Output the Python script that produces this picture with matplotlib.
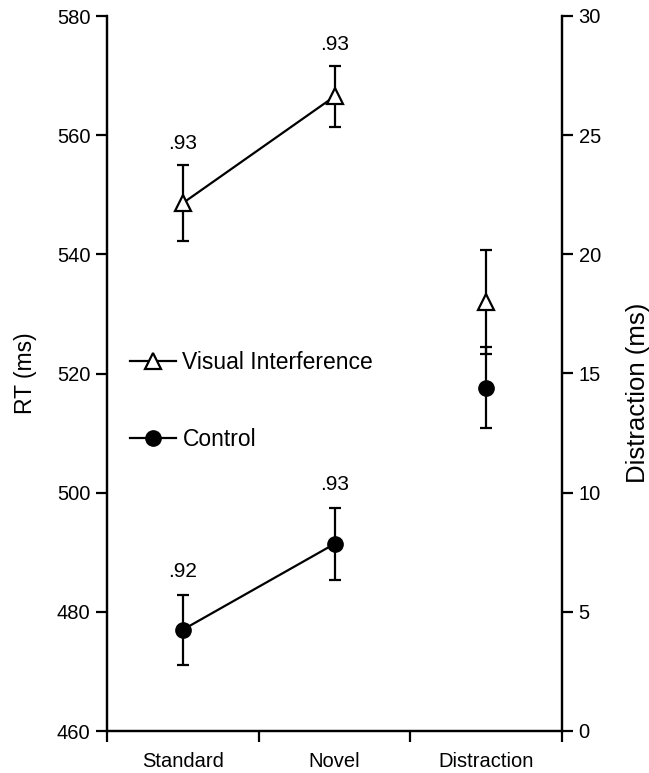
import matplotlib
matplotlib.use("Agg")
import matplotlib.pyplot as plt
from matplotlib.lines import Line2D

plt.rcParams['font.family'] = ['Liberation Sans', 'DejaVu Sans']

categories = ["Standard", "Novel", "Distraction"]
vi_rt = [548.6, 566.5]
vi_rt_err = [6.4, 5.1]
ctrl_rt = [477.0, 491.4]
ctrl_rt_err = [5.9, 6.1]
vi_acc = [".93", ".93"]
ctrl_acc = [".92", ".93"]
vi_dist = 18.0
vi_dist_err = 2.2
ctrl_dist = 14.4
ctrl_dist_err = 1.7
left_ticks = [460, 480, 500, 520, 540, 560, 580]
right_ticks = [0, 5, 10, 15, 20, 25, 30]

fig = plt.figure(figsize=(6.49, 7.73), dpi=100)
ax = fig.add_axes([107/649, 42/773, 455/649, 715/773])
ax2 = ax.twinx()

lw = 1.6
ms = 11
cs = 4.5
fs_tick = 14.5
fs_cat = 14.5
fs_acc = 15
fs_leg = 16.5
fs_lab = 16.5
fs_lab2 = 18.5

x = [1, 2]
ax.errorbar(x, vi_rt, yerr=vi_rt_err, color='black', lw=lw, marker='^', ms=ms,
            mfc='white', mec='black', mew=lw, capsize=cs, capthick=lw, elinewidth=lw, zorder=3)
ax.errorbar(x, ctrl_rt, yerr=ctrl_rt_err, color='black', lw=lw, marker='o', ms=ms,
            mfc='black', mec='black', capsize=cs, capthick=lw, elinewidth=lw, zorder=3)
for xi, v, e, t in zip(x, vi_rt, vi_rt_err, vi_acc):
    ax.text(xi, v + e + 2.0, t, ha='center', va='bottom', fontsize=fs_acc)
for xi, v, e, t in zip(x, ctrl_rt, ctrl_rt_err, ctrl_acc):
    ax.text(xi, v + e + 2.2, t, ha='center', va='bottom', fontsize=fs_acc)

ax2.errorbar([3], [vi_dist], yerr=[vi_dist_err], color='black', lw=lw, marker='^', ms=ms,
             mfc='white', mec='black', mew=lw, capsize=cs, capthick=lw, elinewidth=lw, zorder=3)
ax2.errorbar([3], [ctrl_dist], yerr=[ctrl_dist_err], color='black', lw=lw, marker='o', ms=ms,
             mfc='black', mec='black', capsize=cs, capthick=lw, elinewidth=lw, zorder=3)

ax.set_xlim(0.5, 3.5)
ax.set_ylim(460, 580)
ax2.set_ylim(0, 30)
ax.set_yticks(left_ticks)
ax2.set_yticks(right_ticks)
ax.set_xticks([1, 2, 3])
ax.set_xticklabels(categories, fontsize=fs_cat)
ax.set_xticks([0.5, 1.5, 2.5, 3.5], minor=True)
ax.tick_params(axis='x', which='major', length=0, pad=15)
ax.tick_params(axis='x', which='minor', length=8, width=lw, direction='out')
ax.tick_params(axis='y', length=8, width=lw, direction='out', labelsize=fs_tick, pad=4)
ax2.tick_params(axis='y', length=8, width=lw, direction='out', labelsize=fs_tick, pad=4)

for a in (ax, ax2):
    a.spines['top'].set_visible(False)
    for s in ('left', 'right', 'bottom'):
        a.spines[s].set_linewidth(lw)

ax.set_ylabel("RT (ms)", fontsize=fs_lab, labelpad=14)
ax2.set_ylabel("Distraction (ms)", fontsize=fs_lab2)
ax2.yaxis.set_label_coords(1.141, 0.473)

handles = [
    Line2D([], [], color='black', lw=lw, marker='^', ms=ms, mfc='white', mec='black', mew=lw),
    Line2D([], [], color='black', lw=lw, marker='o', ms=ms, mfc='black', mec='black'),
]
ax.legend(handles, ["Visual Interference", "Control"], loc='upper left',
          bbox_to_anchor=(0.05, 0.531), frameon=False, fontsize=fs_leg,
          handlelength=2.0, handletextpad=0.3, labelspacing=2.35, borderpad=0,
          borderaxespad=0)

fig.savefig("out.png", dpi=100)
